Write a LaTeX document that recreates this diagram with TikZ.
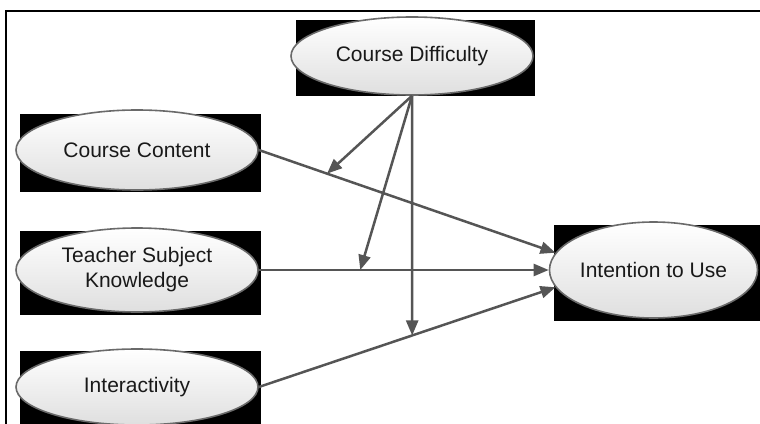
\documentclass[tikz,border=0pt]{standalone}
\usepackage{fontspec}
\setmainfont{Liberation Sans}
\usetikzlibrary{shapes.geometric,arrows.meta}
\definecolor{linegray}{HTML}{555555}
\definecolor{rimgray}{HTML}{6A6A6A}
\tikzset{
  backrect/.style={draw=none,fill=black,minimum width=#1,inner sep=0pt},
  construct/.style={ellipse,draw=rimgray,line width=1.6pt,top color=white,bottom color=gray!25,
     inner sep=0pt,align=center,font=\fontsize{21}{25}\selectfont,text=black!90},
  conn/.style={draw=linegray,line width=2.5pt,-{Triangle[length=15pt,width=12pt]}}
}
\begin{document}
\begin{tikzpicture}[x=1pt,y=-1pt]
\useasboundingbox (0,0) rectangle (760,423);
\clip (0,0) rectangle (760,423);
\fill[white] (0,0) rectangle (760,423);
% outer frame
\draw[line width=2.2pt,black] (6,11) rectangle (790,460);
% black backgrounds
\node[backrect=239pt,minimum height=76pt] (cdbg) at (415.5,58) {};
\node[backrect=241pt,minimum height=78pt] (ccbg) at (140.5,153) {};
\node[backrect=241pt,minimum height=84pt] (tskbg) at (140.5,273) {};
\node[backrect=241pt,minimum height=90pt] (intbg) at (140.5,396) {};
\node[backrect=230pt,minimum height=96pt] (itubg) at (669,273) {};
% constructs
\node[construct,minimum width=242pt,minimum height=78pt] (cd) at (412,56) {Course Difficulty};
\node[construct,minimum width=242pt,minimum height=80pt] (cc) at (137,150) {Course Content};
\node[construct,minimum width=242pt,minimum height=84pt] (tsk) at (137,270) {Teacher Subject\\Knowledge};
\node[construct,minimum width=242pt,minimum height=76pt] (int) at (137,387) {Interactivity};
\node[construct,minimum width=207pt,minimum height=96pt] (itu) at (653.5,270) {Intention to Use};
% moderation targets
\path (cc.east) -- (itu.170) coordinate[pos=0.23] (m1);
\path (tsk.east) -- (itu.west) coordinate[pos=0.35] (m2);
\path (int.east) -- (itu.190) coordinate[pos=0.517] (m3);
% main paths
\draw[conn] (cc.east) -- (itu.170);
\draw[conn] (tsk.east) -- (itu.west);
\draw[conn] (int.east) -- (itu.190);
% moderating arrows
\draw[conn] (cd.south) -- (m1);
\draw[conn] (cd.south) -- (m2);
\draw[conn] (cd.south) -- (m3);
\end{tikzpicture}
\end{document}
